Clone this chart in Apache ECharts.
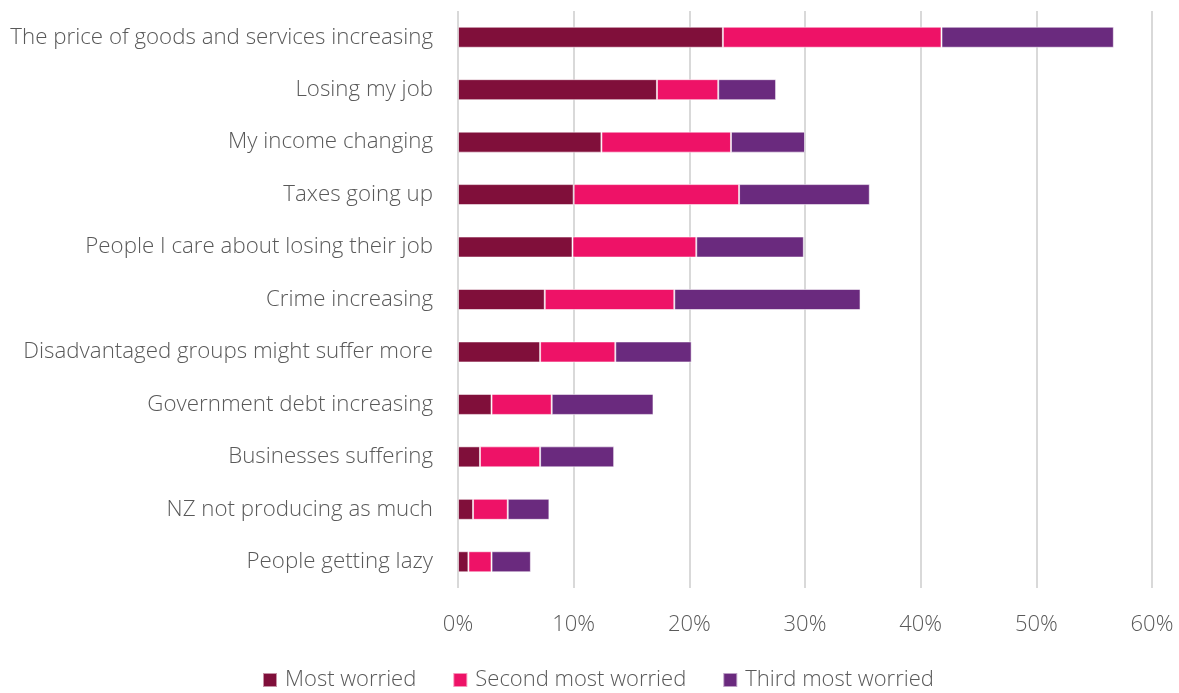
<!DOCTYPE html>
<html>
<head>
<meta charset="utf-8">
<script src="https://cdn.jsdelivr.net/npm/echarts@6/dist/echarts.min.js"></script>
<style>
  html, body { margin: 0; padding: 0; background: #fff; }
  #chart { width: 1179px; height: 693px; }
</style>
</head>
<body>
<div id="chart"></div>
<script>
// Worries, top to bottom as shown
const categories = [
  'The price of goods and services increasing',
  'Losing my job',
  'My income changing',
  'Taxes going up',
  'People I care about losing their job',
  'Crime increasing',
  'Disadvantaged groups might suffer more',
  'Government debt increasing',
  'Businesses suffering',
  'NZ not producing as much',
  'People getting lazy'
];
const mostWorried   = [22.9, 17.2, 12.4, 10.0, 9.9, 7.5, 7.1, 2.9, 1.9, 1.3, 0.9];
const secondWorried = [18.9, 5.3, 11.2, 14.3, 10.7, 11.2, 6.5, 5.2, 5.2, 3.0, 2.0];
const thirdWorried  = [14.9, 5.0, 6.4, 11.3, 9.3, 16.1, 6.6, 8.8, 6.4, 3.6, 3.4];
const seriesNames = ['Most worried', 'Second most worried', 'Third most worried'];
const seriesColors = ['#800F3A', '#EE1267', '#6A2A7E'];

const FONT = '"Open Sans", "Segoe UI", sans-serif';
const TEXT = '#595959';

const chart = echarts.init(document.getElementById('chart'), null, { renderer: 'canvas' });

const values = [mostWorried, secondWorried, thirdWorried];
const series = values.map((arr, i) => ({
  name: seriesNames[i],
  type: 'bar',
  stack: 'total',
  barWidth: 21,
  data: arr,
  itemStyle: {
    color: seriesColors[i],
    borderColor: 'rgba(255,255,255,0.55)',
    borderWidth: 1
  }
}));

chart.setOption({
  animation: false,
  textStyle: { fontFamily: FONT },
  grid: { left: 458, right: 27, top: 11, bottom: 105, containLabel: false },
  legend: {
    data: seriesNames,
    bottom: -3,
    left: 257,
    itemWidth: 14,
    itemHeight: 14,
    itemGap: 36,
    icon: 'rect',
    textStyle: { fontFamily: FONT, fontSize: 22, fontWeight: 300, color: TEXT, padding: [0, 0, 0, 3] }
  },
  xAxis: {
    type: 'value',
    min: 0,
    max: 60,
    interval: 10,
    axisLine: { show: false },
    axisTick: { show: false },
    splitLine: { show: true, lineStyle: { color: '#D9D9D9', width: 2 } },
    axisLabel: {
      formatter: v => v + '%',
      fontFamily: FONT,
      fontSize: 22,
      fontWeight: 300,
      color: TEXT,
      margin: 26
    }
  },
  yAxis: {
    type: 'category',
    inverse: true,
    data: categories,
    axisLine: { show: false },
    axisTick: { show: false },
    axisLabel: {
      fontFamily: FONT,
      fontSize: 22.3,
      fontWeight: 300,
      color: TEXT,
      margin: 25
    }
  },
  series: series
});
</script>
</body>
</html>
